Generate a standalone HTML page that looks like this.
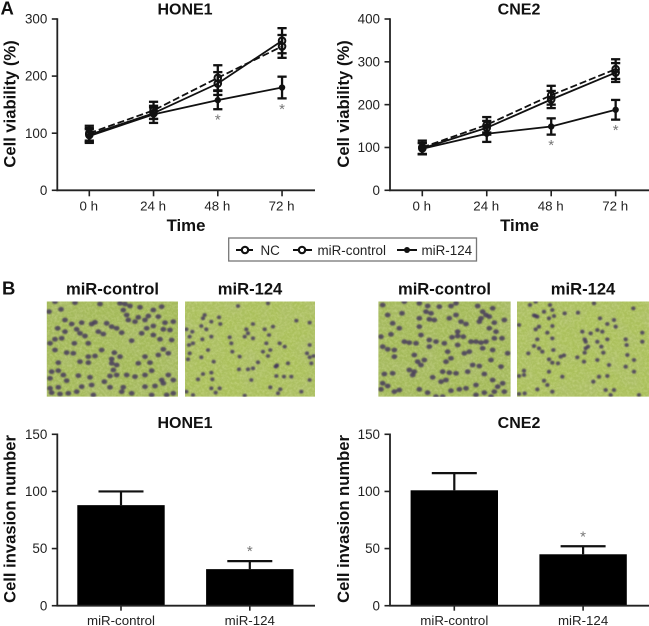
<!DOCTYPE html>
<html>
<head>
<meta charset="utf-8">
<title>Cell viability and invasion charts</title>
<style>
html,body{margin:0;padding:0;background:#fff;}
svg{display:block;font-family:"Liberation Sans",sans-serif;}
</style>
</head>
<body>
<svg id="fig" xmlns="http://www.w3.org/2000/svg" width="649" height="626" viewBox="0 0 649 626">
<defs>
<filter id="soft" x="-50%" y="-50%" width="200%" height="200%"><feGaussianBlur stdDeviation="0.7"/></filter>
<filter id="grain" x="0" y="0" width="100%" height="100%">
<feTurbulence type="fractalNoise" baseFrequency="0.4" numOctaves="2" seed="7"/>
<feColorMatrix type="matrix" values="0 0 0 0 0.85  0 0 0 0 0.9  0 0 0 0 0.5  1.6 0 0 0 -0.55"/>
</filter>
<filter id="mottle" x="0" y="0" width="100%" height="100%">
<feTurbulence type="fractalNoise" baseFrequency="0.05" numOctaves="2" seed="3"/>
<feColorMatrix type="matrix" values="0 0 0 0 0.45  0 0 0 0 0.52  0 0 0 0 0.22  1.6 0 0 0 -0.6"/>
</filter>
</defs>
<text x="0.5" y="14.5" font-size="18.5" font-weight="bold" fill="#111">A</text>
<text x="2" y="294.5" font-size="18.5" font-weight="bold" fill="#111">B</text>
<g>
<rect x="228.7" y="238" width="247.8" height="23" fill="#fff" stroke="#777" stroke-width="1.3"/>
<g>
<line x1="236" y1="250" x2="255" y2="250" stroke="#111" stroke-width="2" stroke-dasharray="7 3"/>
<circle cx="245" cy="250" r="3.2" fill="#fff" stroke="#111" stroke-width="2.2"/>
<text x="260.5" y="254.8" font-size="13.4" fill="#222">NC</text>
</g>
<g>
<line x1="293" y1="250" x2="312" y2="250" stroke="#111" stroke-width="2"/>
<circle cx="302" cy="250" r="3.2" fill="#fff" stroke="#111" stroke-width="2.2"/>
<text x="317.5" y="254.8" font-size="13.4" fill="#222">miR-control</text>
</g>
<g>
<line x1="397" y1="250" x2="417" y2="250" stroke="#111" stroke-width="2"/>
<circle cx="407" cy="250" r="3" fill="#111"/>
<text x="421.5" y="254.8" font-size="13.4" fill="#222">miR-124</text>
</g>
</g>
<g>
<text x="112.5" y="294.5" font-size="16.6" font-weight="bold" text-anchor="middle" fill="#111">miR-control</text>
<text x="250" y="294.5" font-size="16.6" font-weight="bold" text-anchor="middle" fill="#111">miR-124</text>
<text x="444.5" y="294.5" font-size="16.6" font-weight="bold" text-anchor="middle" fill="#111">miR-control</text>
<text x="583" y="294.5" font-size="16.6" font-weight="bold" text-anchor="middle" fill="#111">miR-124</text>
</g>
</svg>
<script>
// Line chart data
var timeLabels = ['0 h', '24 h', '48 h', '72 h'];
var viabilityTicksHone1 = [0, 100, 200, 300];
var viabilityTicksCne2 = [0, 100, 200, 300, 400];
var hone1Nc = [100, 140, 197, 252];
var hone1NcErr = [13, 15, 22, 20];
var hone1Control = [97, 135, 187, 262];
var hone1ControlErr = [12, 10, 20, 22];
var hone1Mir124 = [95, 133, 158, 180];
var hone1Mir124Err = [12, 15, 16, 19];
var cne2Nc = [100, 153, 222, 283];
var cne2NcErr = [16, 18, 22, 23];
var cne2Control = [98, 146, 212, 275];
var cne2ControlErr = [13, 16, 20, 22];
var cne2Mir124 = [97, 132, 149, 188];
var cne2Mir124Err = [13, 19, 19, 23];
var significantTimes = [2, 3];

// Bar chart data
var barCategories = ['miR-control', 'miR-124'];
var invasionTicks = [0, 50, 100, 150];
var hone1Invasion = [88, 32];
var hone1InvasionErr = [12, 7];
var cne2Invasion = [101, 45];
var cne2InvasionErr = [15, 7];

// Micrograph stained-cell spots
var cellsHone1Control = [[30,5],[90,8],[165,12],[225,10],[240,12],[255,18],[285,22],[350,20],[48,28],[12,35],[235,30],[245,45],[280,52],[310,48],[340,50],[325,30],[150,67],[60,60],[80,72],[110,68],[140,72],[185,70],[200,80],[215,85],[250,60],[270,65],[300,60],[325,78],[360,68],[385,65],[38,85],[95,88],[105,100],[120,108],[60,95],[50,115],[30,118],[15,130],[88,130],[130,130],[160,95],[175,102],[230,98],[290,100],[305,85],[325,105],[345,118],[355,88],[375,90],[380,120],[260,122],[30,150],[65,158],[85,160],[170,150],[208,158],[225,170],[130,170],[150,168],[130,188],[105,185],[40,188],[200,177],[200,190],[300,170],[315,188],[340,165],[355,148],[370,160],[215,195],[205,210],[215,225],[195,228],[280,190],[320,212],[270,230],[300,225],[350,240],[370,225],[385,240],[20,215],[40,212],[55,225],[100,227],[15,235],[65,242],[135,232],[178,245],[245,225],[110,260],[140,255],[15,265],[40,262],[70,280],[95,275],[20,278],[45,282],[195,262],[235,262],[230,275],[260,280],[320,285],[330,258],[355,250],[300,260],[385,280],[365,285],[145,285]];
var cellsHone1Mir124 = [[255,10],[165,18],[65,45],[60,55],[108,52],[85,65],[112,72],[55,78],[70,88],[10,88],[28,95],[20,110],[30,130],[18,135],[58,118],[85,110],[190,88],[210,72],[245,88],[270,80],[340,62],[380,68],[140,112],[145,130],[148,155],[185,110],[210,115],[195,100],[258,105],[250,130],[290,130],[305,140],[240,155],[262,150],[255,168],[75,150],[55,172],[92,185],[15,178],[20,160],[170,170],[380,135],[372,160],[392,168],[380,172],[385,190],[280,198],[278,200],[282,196],[315,190],[168,208],[210,205],[195,208],[225,187],[60,222],[85,218],[280,228],[303,230],[325,230],[45,238],[88,238],[205,240],[380,240],[85,265],[98,278],[110,265],[262,262],[292,268],[285,280],[10,275],[30,285],[355,275],[185,287]];
var cellsCne2Control = [[20,15],[35,45],[78,40],[50,70],[85,5],[130,10],[155,18],[190,20],[225,18],[240,10],[150,35],[165,40],[130,55],[160,58],[175,60],[220,55],[240,45],[255,65],[270,72],[305,18],[320,35],[330,45],[315,55],[350,25],[340,50],[310,65],[355,68],[385,60],[130,80],[70,85],[45,103],[15,110],[100,128],[85,125],[120,130],[135,105],[160,120],[180,125],[205,130],[228,112],[245,108],[245,95],[262,110],[285,125],[300,125],[315,128],[330,125],[355,115],[340,85],[360,95],[378,115],[20,140],[35,148],[55,150],[55,170],[115,165],[125,185],[145,180],[160,140],[245,135],[265,160],[280,155],[215,155],[210,185],[225,175],[320,145],[350,150],[395,160],[345,180],[310,198],[290,195],[375,200],[25,222],[50,220],[100,210],[115,215],[110,225],[135,195],[170,232],[200,215],[220,218],[240,220],[275,215],[325,222],[210,240],[195,245],[20,250],[35,258],[15,268],[55,275],[70,270],[130,268],[155,278],[180,290],[200,290],[225,272],[250,268],[270,265],[300,255],[325,278],[350,240],[365,260],[380,250],[355,275],[385,275],[300,285],[345,290]];
var cellsCne2Mir124 = [[48,15],[65,5],[115,30],[108,15],[65,48],[60,46],[70,50],[90,35],[105,55],[120,48],[152,40],[192,38],[240,10],[358,25],[258,55],[300,60],[15,75],[75,80],[115,78],[65,88],[100,98],[280,72],[305,80],[205,95],[230,100],[250,90],[265,95],[385,98],[212,118],[215,125],[250,125],[280,118],[335,118],[385,125],[115,115],[70,118],[60,138],[75,145],[85,155],[118,150],[43,160],[215,145],[222,140],[212,158],[262,140],[268,158],[338,135],[340,165],[360,180],[140,170],[150,166],[105,178],[190,172],[132,190],[115,188],[210,185],[250,180],[285,195],[335,200],[360,215],[105,215],[30,212],[15,228],[30,225],[145,230],[280,228],[255,230],[90,242],[100,255],[238,245],[70,268],[115,275],[32,280],[15,282],[275,270],[300,270],[290,285],[375,285]];

var NS = 'http://www.w3.org/2000/svg';
var fig = document.getElementById('fig');
var INK = '#111';

function el(tag, parent, attrs) {
  var node = document.createElementNS(NS, tag);
  for (var key in attrs) node.setAttribute(key, attrs[key]);
  parent.appendChild(node);
  return node;
}

function drawAxisText(parent, x, y, str, size, anchor, weight, name) {
  var t = el('text', parent, {x: x, y: y, 'font-size': size, 'text-anchor': anchor, 'font-weight': weight, fill: weight === 'bold' ? INK : '#222'});
  t.textContent = str;
  
  
  return t;
}

function drawFrame(parent, axisX, right, top, bottom, maxV, ticks, yScale) {
  var axis = el('g', parent, {});
  
  
  el('line', axis, {x1: axisX, y1: top - 0.8, x2: axisX, y2: bottom + 0.8, stroke: '#222', 'stroke-width': 1.8});
  el('line', axis, {x1: axisX - 0.9, y1: bottom, x2: right, y2: bottom, stroke: '#222', 'stroke-width': 1.8});
  ticks.forEach(function (v) {
    var y = yScale(v);
    el('line', axis, {x1: axisX - 5.5, y1: y, x2: axisX, y2: y, stroke: '#222', 'stroke-width': 1.6});
    drawAxisText(axis, axisX - 10, y + 4.6, String(v), 13.4, 'end', 'normal', 'y-tick-label');
  });
}

function drawLineChart(opt) {
  var g = el('g', fig, {});
  
  
  var yScale = function (v) { return opt.bottom - (v / opt.maxV) * (opt.bottom - opt.top); };
  var xScale = function (i) { return opt.x0 + i * opt.step; };
  drawFrame(g, opt.axisX, opt.right, opt.top, opt.bottom, opt.maxV, opt.ticks, yScale);
  timeLabels.forEach(function (lab, i) {
    var x = xScale(i);
    el('line', g, {x1: x, y1: opt.bottom, x2: x, y2: opt.bottom + 6, stroke: '#222', 'stroke-width': 1.6});
    drawAxisText(g, x - 0.5, opt.bottom + 20, lab, 13.3, 'middle', 'normal', 'x-tick-label');
  });
  drawAxisText(g, opt.titleX, 14.5, opt.title, 16, 'middle', 'bold', 'chart-title');
  drawAxisText(g, opt.timeX, 231, 'Time', 16.8, 'middle', 'bold', 'x-axis-title');
  var yt = drawAxisText(g, 0, 0, 'Cell viability (%)', 16.6, 'middle', 'bold', 'y-axis-title');
  yt.setAttribute('transform', 'translate(' + opt.yTitleX + ',104) rotate(-90)');

  opt.series.forEach(function (s) {
    var sg = el('g', g, {});
    
    
    var pts = s.values.map(function (v, i) { return xScale(i) + ',' + yScale(v); }).join(' ');
    var lineAttrs = {points: pts, fill: 'none', stroke: INK, 'stroke-width': 1.8};
    if (s.dash) lineAttrs['stroke-dasharray'] = '7 3';
    el('polyline', sg, lineAttrs);
    s.values.forEach(function (v, i) {
      var x = xScale(i), hi = yScale(v + s.err[i]), lo = yScale(v - s.err[i]);
      el('line', sg, {x1: x, y1: hi, x2: x, y2: lo, stroke: INK, 'stroke-width': 2.3});
      el('line', sg, {x1: x - 4.6, y1: hi, x2: x + 4.6, y2: hi, stroke: INK, 'stroke-width': 2.3});
      el('line', sg, {x1: x - 4.6, y1: lo, x2: x + 4.6, y2: lo, stroke: INK, 'stroke-width': 2.3});
      if (s.open) el('circle', sg, {cx: x, cy: yScale(v), r: 3.3, fill: 'none', stroke: INK, 'stroke-width': 2});
      else el('circle', sg, {cx: x, cy: yScale(v), r: 3.2, fill: INK});
    });
  });
  var last = opt.series[opt.series.length - 1];
  significantTimes.forEach(function (i) {
    var low = yScale(last.values[i] - last.err[i]);
    var star = drawAxisText(g, xScale(i), low + 15.5, '*', 15, 'middle', 'normal', 'significance-asterisk');
    star.setAttribute('fill', '#777');
  });
}

function drawBarChart(opt) {
  var g = el('g', fig, {});
  
  
  var yScale = function (v) { return opt.bottom - (v / 150) * (opt.bottom - opt.top); };
  var xScale = function (i) { return opt.x0 + i * 128.8; };
  var barW = 87.4;
  opt.values.forEach(function (v, i) {
    var x = xScale(i), y = yScale(v), top = yScale(v + opt.err[i]);
    var eb = el('g', g, {});
    
    
    el('line', eb, {x1: x, y1: y, x2: x, y2: top, stroke: INK, 'stroke-width': 2.2});
    el('line', eb, {x1: x - 22.5, y1: top, x2: x + 22.5, y2: top, stroke: INK, 'stroke-width': 2.2});
    var bar = el('rect', g, {x: x - barW / 2, y: y, width: barW, height: opt.bottom - y, fill: '#000'});
    
    
  });
  drawFrame(g, opt.axisX, opt.right, opt.top, opt.bottom, 150, invasionTicks, yScale);
  barCategories.forEach(function (lab, i) {
    var x = xScale(i);
    el('line', g, {x1: x, y1: opt.bottom, x2: x, y2: opt.bottom + 5, stroke: '#222', 'stroke-width': 1.6});
    drawAxisText(g, x, opt.bottom + 19.3, lab, 13.3, 'middle', 'normal', 'x-tick-label');
  });
  drawAxisText(g, opt.titleX, 428, opt.title, 16, 'middle', 'bold', 'chart-title');
  var yt = drawAxisText(g, 0, 0, 'Cell invasion number', 16.6, 'middle', 'bold', 'y-axis-title');
  yt.setAttribute('transform', 'translate(' + opt.yTitleX + ',519) rotate(-90)');
  var top2 = yScale(opt.values[1] + opt.err[1]);
  var star = drawAxisText(g, xScale(1), top2 - 5, '*', 15, 'middle', 'normal', 'significance-asterisk');
  star.setAttribute('fill', '#777');
}

function drawMicrograph(name, x, y, w, h, originX, originY, cells, rx, ry, base) {
  var g = el('g', fig, {});
  
  
  var clipId = 'clip-' + name;
  var clip = el('clipPath', g, {id: clipId});
  el('rect', clip, {x: x, y: y, width: w, height: h});
  var inner = el('g', g, {'clip-path': 'url(#' + clipId + ')'});
  el('rect', inner, {x: x, y: y, width: w, height: h, fill: base});
  el('rect', inner, {x: x, y: y, width: w, height: h, filter: 'url(#mottle)', opacity: 0.5});
  el('rect', inner, {x: x, y: y, width: w, height: h, filter: 'url(#grain)', opacity: 0.35});
  var spots = el('g', inner, {filter: 'url(#soft)', fill: '#45395c', 'fill-opacity': 0.85});
  cells.forEach(function (c) {
    var spot = el('ellipse', spots, {cx: originX + c[0] / 3, cy: originY + c[1] / 3, rx: rx, ry: ry});
    
    
  });
}

drawLineChart({name: 'hone1-viability-chart', title: 'HONE1', titleX: 185, timeX: 186, yTitleX: 15.5, axisX: 57.3, right: 315, top: 19, bottom: 190.3, maxV: 300, x0: 89.3, step: 64.25, ticks: viabilityTicksHone1,
  series: [
    {name: 'series-nc', values: hone1Nc, err: hone1NcErr, open: true, dash: true},
    {name: 'series-mir-control', values: hone1Control, err: hone1ControlErr, open: true, dash: false},
    {name: 'series-mir-124', values: hone1Mir124, err: hone1Mir124Err, open: false, dash: false}
  ]});
drawLineChart({name: 'cne2-viability-chart', title: 'CNE2', titleX: 519, timeX: 519.5, yTitleX: 349, axisX: 390, right: 649, top: 19, bottom: 190.3, maxV: 400, x0: 422.3, step: 64.45, ticks: viabilityTicksCne2,
  series: [
    {name: 'series-nc', values: cne2Nc, err: cne2NcErr, open: true, dash: true},
    {name: 'series-mir-control', values: cne2Control, err: cne2ControlErr, open: true, dash: false},
    {name: 'series-mir-124', values: cne2Mir124, err: cne2Mir124Err, open: false, dash: false}
  ]});

drawMicrograph('micrograph-hone1-mir-control', 46.7, 301.5, 131.3, 95.2, 45, 300, cellsHone1Control, 2.9, 2.4, '#a4ba5a');
drawMicrograph('micrograph-hone1-mir-124', 185, 301.5, 130, 95.2, 183, 300, cellsHone1Mir124, 2.1, 1.9, '#abc05c');
drawMicrograph('micrograph-cne2-mir-control', 378.3, 301.5, 132.4, 95.2, 376, 300, cellsCne2Control, 2.9, 2.4, '#a4ba5a');
drawMicrograph('micrograph-cne2-mir-124', 517, 301.5, 132, 95.2, 514, 300, cellsCne2Mir124, 2.2, 2, '#abc05c');

drawBarChart({name: 'hone1-invasion-chart', title: 'HONE1', titleX: 185, yTitleX: 15.5, axisX: 57.3, right: 315, top: 434.3, bottom: 605.7, x0: 121, values: hone1Invasion, err: hone1InvasionErr});
drawBarChart({name: 'cne2-invasion-chart', title: 'CNE2', titleX: 519, yTitleX: 349, axisX: 390, right: 649, top: 434.3, bottom: 605.7, x0: 454.3, values: cne2Invasion, err: cne2InvasionErr});
</script>
</body>
</html>
